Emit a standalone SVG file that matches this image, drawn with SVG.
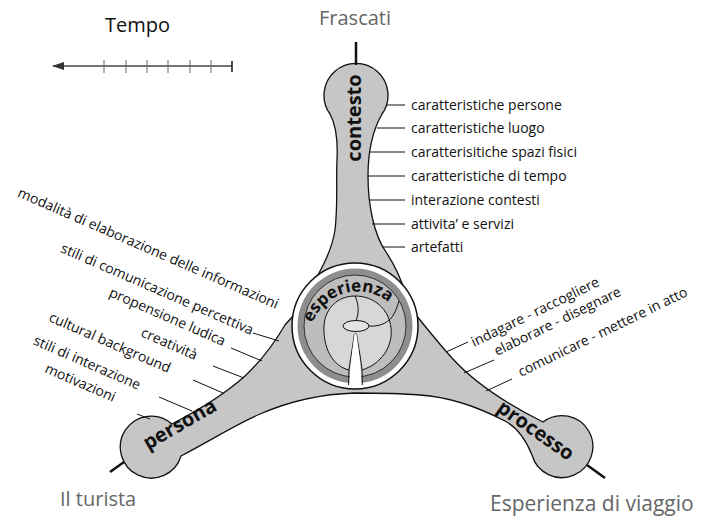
<svg xmlns="http://www.w3.org/2000/svg" width="703" height="520" viewBox="0 0 703 520">
<style>
.lbl{font-family:"Open Sans","Liberation Sans",sans-serif;font-size:14px;fill:#111}
.big{font-family:"Open Sans","Liberation Sans",sans-serif;font-size:20px;fill:#666}
.blk{fill:#111}
.bold{font-family:"Open Sans","Liberation Sans",sans-serif;font-size:20px;font-weight:bold;fill:#111}
.ln{stroke:#111;stroke-width:1;fill:none}
.stub{stroke:#111;stroke-width:2.5;fill:none}
.edge{stroke:#111;stroke-width:1;fill:none}
</style>
<defs>
<marker id="ah" viewBox="0 0 12 8" refX="1" refY="4" markerWidth="12" markerHeight="8" markerUnits="userSpaceOnUse" orient="auto">
<path d="M12,0 L0,4 L12,8 Z" fill="#333"/>
</marker>
<path id="arcE" d="M 310.2,332 A 48.5 48.5 0 0 1 395.2,308.8"/>
</defs>
<rect width="703" height="520" fill="#fff"/>

<g id="tempo">
<text class="big blk" x="105" y="32">Tempo</text>
</g>

<g id="body">
<path d="M 330,114 A 32 32 0 1 1 382,114 C 374,128 368,150 368,176 C 368,205 374,235 386,252 C 394,264 400,276 405,292 L 412,310 C 428,330 440,345 452,358 C 470,378 495,398 543,422 A 31 31 0 1 1 532,455 C 526,440 518,428 505,421 C 480,408 450,397 420,395 C 395,393 375,393 355,393 C 320,394 290,401 260,414 C 235,425 210,441 181,456 A 31 31 0 1 1 172,424 C 195,412 225,394 245,376 C 262,360 275,342 285,325 L 300,308 L 312,286 C 322,268 332,250 335,230 C 338,205 336,180 337,160 C 338,140 336,125 330,114 Z" fill="#c6c6c6" stroke="#111" stroke-width="1.3"/>
</g>

<g id="connectors">
<line x1="53" y1="66" x2="232" y2="66" stroke="#444" stroke-width="1.3" marker-start="url(#ah)"/>
<g stroke="#666" stroke-width="1">
<line x1="104" y1="60" x2="104" y2="73"/><line x1="126" y1="60" x2="126" y2="73"/><line x1="147" y1="60" x2="147" y2="73"/><line x1="168" y1="60" x2="168" y2="73"/><line x1="190" y1="60" x2="190" y2="73"/><line x1="211" y1="60" x2="211" y2="73"/>
</g>
<line x1="232" y1="61" x2="232" y2="72" stroke="#222" stroke-width="1.6"/>
<line class="stub" x1="356" y1="42" x2="356" y2="65"/>
<line class="stub" x1="124" y1="462" x2="110" y2="472"/>
<line class="stub" x1="587" y1="465" x2="605" y2="478"/>
<line class="ln" x1="387" y1="105" x2="405" y2="105"/>
<line class="ln" x1="377" y1="128" x2="405" y2="128"/>
<line class="ln" x1="370" y1="152" x2="405" y2="152"/>
<line class="ln" x1="368" y1="176" x2="405" y2="176"/>
<line class="ln" x1="369" y1="200" x2="405" y2="200"/>
<line class="ln" x1="372" y1="224" x2="405" y2="224"/>
<line class="ln" x1="383" y1="247" x2="405" y2="247"/>
<line class="ln" x1="253" y1="333" x2="279" y2="341"/>
<line class="ln" x1="231" y1="348" x2="262" y2="361"/>
<line class="ln" x1="213" y1="366" x2="244" y2="378"/>
<line class="ln" x1="193" y1="380" x2="223" y2="393"/>
<line class="ln" x1="159" y1="397" x2="192" y2="411"/>
<line class="ln" x1="137" y1="414" x2="150" y2="419"/>
<line class="ln" x1="446" y1="352" x2="468" y2="342"/>
<line class="ln" x1="464" y1="373" x2="494" y2="360"/>
<line class="ln" x1="486" y1="391" x2="512" y2="379"/>
</g>

<g id="node-esperienza">
<circle cx="355" cy="326" r="63" fill="#fff" stroke="#111" stroke-width="1.5"/>
<circle cx="355" cy="326" r="57.5" fill="#8e8e8e"/>
<circle cx="355" cy="326" r="51" fill="#bdbdbd" stroke="#111" stroke-width="0.8"/>
<path d="M 354.5,334 C 352,350 350,362 349,370 C 332,366 323,347 324,326 C 325,308 338,296 355,296 C 374,296 389,309 391,328 C 393,347 381,364 362,370 C 361,360 359,350 356.5,334 Z" fill="#d7d7d7" stroke="#111" stroke-width="1"/>
<path d="M 354.5,334 C 352,352 350,368 349,387 L 362,387 C 361,368 359,352 356.5,334 Z" fill="#fff"/>
<path class="edge" d="M 349,370 C 348.7,376 348.6,381 348.6,385"/>
<path class="edge" d="M 362,370 C 362.2,376 362.3,381 362.3,385"/>
<path class="edge" d="M 355,296 C 359,304 359,314 356,320.5"/>
<path class="edge" d="M 369,326 C 380,327 390,322 394,314 C 397,308 398,304 399,301"/>
<ellipse cx="356" cy="326" rx="13" ry="5.5" fill="#e4e4e4" stroke="#111" stroke-width="1"/>
<text class="bold" style="font-size:17px"><textPath href="#arcE" startOffset="50%" text-anchor="middle">esperienza</textPath></text>
</g>

<g id="node-contesto">
<text class="big" x="355" y="25" text-anchor="middle">Frascati</text>
<text class="bold" transform="translate(361,118) rotate(-90)" text-anchor="middle">contesto</text>
<text class="lbl" x="411" y="110">caratteristiche persone</text>
<text class="lbl" x="411" y="133">caratteristiche luogo</text>
<text class="lbl" x="411" y="157">caratterisitiche spazi fisici</text>
<text class="lbl" x="411" y="181">caratteristiche di tempo</text>
<text class="lbl" x="411" y="205">interazione contesti</text>
<text class="lbl" x="411" y="229">attivita’ e servizi</text>
<text class="lbl" x="411" y="252">artefatti</text>
</g>

<g id="node-persona">
<text class="big" x="60" y="506">Il turista</text>
<text class="bold" transform="translate(183,430) rotate(-30)" text-anchor="middle">persona</text>
<g class="lbl" text-anchor="end">
<text transform="translate(276,309) rotate(23.5)">modalità di elaborazione delle informazioni</text>
<text transform="translate(251,335) rotate(23.5)">stili di comunicazione percettiva</text>
<text transform="translate(223,346) rotate(23.5)">propensione ludica</text>
<text transform="translate(195,360) rotate(23.5)">creatività</text>
<text transform="translate(168,373) rotate(23.5)">cultural background</text>
<text transform="translate(138,390) rotate(23.5)">stili di interazione</text>
<text transform="translate(113,402) rotate(23.5)">motivazioni</text>
</g>
</g>

<g id="node-processo">
<text class="big" x="490" y="511" style="font-size:21px">Esperienza di viaggio</text>
<text class="bold" transform="translate(532,436) rotate(35)" text-anchor="middle">processo</text>
<g class="lbl">
<text transform="translate(474,347) rotate(-26)">indagare - raccogliere</text>
<text transform="translate(497,356) rotate(-26)">elaborare - disegnare</text>
<text transform="translate(521,377) rotate(-26)">comunicare - mettere in atto</text>
</g>
</g>
</svg>
